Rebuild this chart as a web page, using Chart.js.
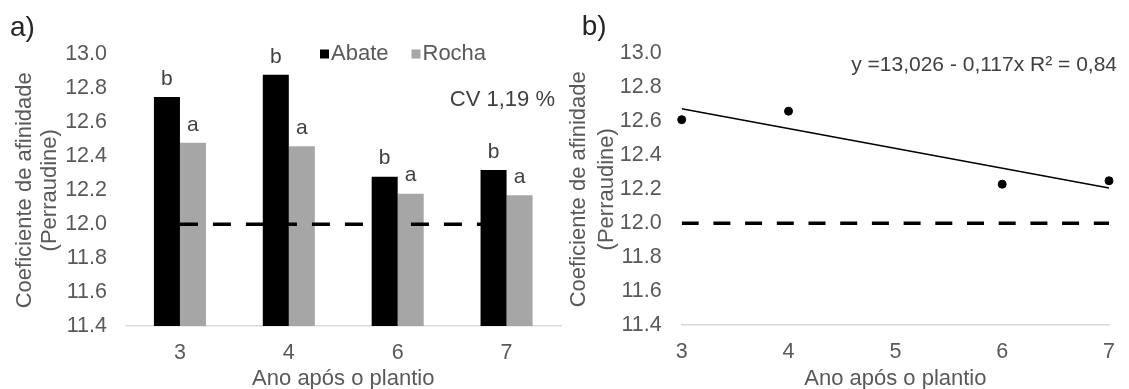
<!DOCTYPE html>
<html>
<head>
<meta charset="utf-8">
<script src="https://cdn.jsdelivr.net/npm/chart.js@4.4.1/dist/chart.umd.min.js"></script>
<style>
  html, body { margin: 0; padding: 0; background: #fff; }
  #wrap { position: relative; width: 1129px; height: 389px; }
  canvas { position: absolute; top: 0; }
  #chartA { left: 0; }
  #chartB { left: 565px; }
</style>
</head>
<body>
<div id="wrap">
  <canvas id="chartA" width="565" height="389"></canvas>
  <canvas id="chartB" width="564" height="389"></canvas>
</div>
<script>
// values
var years = ['3', '4', '6', '7'];
var abate = [12.75, 12.88, 12.28, 12.32];
var rocha = [12.48, 12.46, 12.18, 12.17];
var abateLetters = ['b', 'b', 'b', 'b'];
var rochaLetters = ['a', 'a', 'a', 'a'];
var refLevel = [12, 12, 12, 12];

// panel b
var yearsNum = [3, 4, 6, 7];
var meanValues = [12.61, 12.66, 12.23, 12.25];
var trendX = [3, 7];
var trendY = [12.675, 12.207];
var refX = [3, 7];
var refY = [12, 12];

// axis ticks
var yMin = 11.4, yMax = 13.0, yStep = 0.2;
var xMinB = 3, xMaxB = 7, xStepB = 1;

var FONT = "'Liberation Sans', Arial, sans-serif";
var GREY = '#595959';
Chart.defaults.font.family = FONT;
Chart.defaults.color = GREY;

function pairs(xs, ys) {
  return xs.map(function(x, i) { return {x: x, y: ys[i]}; });
}

// letters above each bar
var barLetters = {
  id: 'barLetters',
  afterDatasetsDraw: function(chart) {
    var ctx = chart.ctx;
    ctx.save();
    ctx.font = '21px ' + FONT;
    ctx.fillStyle = '#404040';
    ctx.textAlign = 'center';
    ctx.textBaseline = 'middle';
    chart.data.datasets.forEach(function(ds, i) {
      if (!ds.letters) return;
      chart.getDatasetMeta(i).data.forEach(function(bar, j) {
        ctx.fillText(ds.letters[j], bar.x, bar.y - 18);
      });
    });
    ctx.restore();
  }
};

// free text + small inline legend
var notes = {
  id: 'notes',
  afterDraw: function(chart, args, opts) {
    var ctx = chart.ctx;
    ctx.save();
    ctx.textBaseline = 'middle';
    (opts.texts || []).forEach(function(t) {
      ctx.font = t.size + 'px ' + FONT;
      ctx.fillStyle = t.color || '#404040';
      ctx.textAlign = t.align || 'left';
      ctx.fillText(t.text, t.x, t.y);
    });
    if (opts.legend) {
      var lg = opts.legend, x = lg.x;
      ctx.font = lg.size + 'px ' + FONT;
      ctx.textAlign = 'left';
      chart.data.datasets.forEach(function(ds) {
        if (ds.type === 'line') return;
        ctx.fillStyle = ds.backgroundColor;
        ctx.fillRect(x, lg.y - 4.5, 9, 9);
        ctx.fillStyle = GREY;
        ctx.fillText(ds.label, x + 11, lg.y);
        x += 11 + ctx.measureText(ds.label).width + lg.gap;
      });
    }
    ctx.restore();
  }
};

var yTitle = ['Coeficiente de afinidade', '(Perraudine)'];
var xTitle = 'Ano após o plantio';

new Chart(document.getElementById('chartA'), {
  type: 'bar',
  data: {
    labels: years,
    datasets: [
      { label: 'Abate', data: abate, backgroundColor: '#000000', letters: abateLetters, order: 1 },
      { label: 'Rocha', data: rocha, backgroundColor: '#a6a6a6', letters: rochaLetters, order: 1 },
      { type: 'line', label: 'ref', data: refLevel, borderColor: '#000', borderWidth: 3.5,
        borderDash: [18, 15], pointRadius: 0, fill: false, order: 0 }
    ]
  },
  options: {
    responsive: false,
    animation: false,
    datasets: { bar: { categoryPercentage: 0.478, barPercentage: 1 } },
    layout: { padding: { left: 10, right: 4, top: 0, bottom: 0 } },
    plugins: {
      legend: { display: false },
      tooltip: { enabled: false },
      title: { display: true, text: 'a)', align: 'start', color: '#262626',
        font: { size: 28, weight: 'normal' }, padding: { top: 11.2, bottom: 9.7 } },
      notes: {
        texts: [ { text: 'CV 1,19 %', x: 555, y: 100, align: 'right', size: 22 } ],
        legend: { x: 320, y: 54, size: 22, gap: 23 }
      }
    },
    scales: {
      x: {
        grid: { display: false, drawTicks: false },
        border: { display: true, color: '#d9d9d9', width: 1.5 },
        ticks: { padding: 14.4, font: { size: 21.5 }, color: GREY },
        title: { display: true, text: xTitle, color: GREY, font: { size: 22, lineHeight: 0.9 }, padding: 0 },
        afterFit: function(s) { s.height = 63; }
      },
      y: {
        min: yMin, max: yMax,
        grid: { display: false, drawTicks: false },
        border: { display: false },
        ticks: { stepSize: yStep, padding: 18.5, font: { size: 21.5 }, color: GREY,
          callback: function(v) { return v.toFixed(1); } },
        title: { display: true, text: yTitle, color: GREY, font: { size: 22, lineHeight: 1.13 },
          padding: { top: 2.6, bottom: 0 } },
        afterFit: function(s) { s.width = 115.5; }
      }
    }
  },
  plugins: [barLetters, notes]
});

new Chart(document.getElementById('chartB'), {
  type: 'scatter',
  data: {
    datasets: [
      { label: 'Média', data: pairs(yearsNum, meanValues), backgroundColor: '#000', borderColor: '#000',
        pointRadius: 4, showLine: false, clip: false, order: 0 },
      { type: 'line', label: 'Ajuste', data: pairs(trendX, trendY), borderColor: '#000', borderWidth: 1.5,
        pointRadius: 0, fill: false, order: 1 },
      { type: 'line', label: 'ref', data: pairs(refX, refY), borderColor: '#000', borderWidth: 3.5,
        borderDash: [17, 14.7], pointRadius: 0, fill: false, order: 1 }
    ]
  },
  options: {
    responsive: false,
    animation: false,
    layout: { padding: { left: 16.7, right: 11.7, top: 0, bottom: 0 } },
    plugins: {
      legend: { display: false },
      tooltip: { enabled: false },
      title: { display: true, text: 'b)', align: 'start', color: '#262626',
        font: { size: 28, weight: 'normal' }, padding: { top: 10.2, bottom: 9.7 } },
      notes: {
        texts: [ { text: 'y =13,026 - 0,117x R² = 0,84', x: 552, y: 65, align: 'right', size: 21 } ]
      }
    },
    scales: {
      x: {
        type: 'linear', min: xMinB, max: xMaxB,
        grid: { display: false, drawTicks: false },
        border: { display: true, color: '#d9d9d9', width: 1.5 },
        ticks: { stepSize: xStepB, padding: 14, font: { size: 21.5 }, color: GREY },
        title: { display: true, text: xTitle, color: GREY, font: { size: 22, lineHeight: 0.9 }, padding: 0 },
        afterFit: function(s) { s.height = 64; }
      },
      y: {
        min: yMin, max: yMax,
        grid: { display: false, drawTicks: false },
        border: { display: false },
        ticks: { stepSize: yStep, padding: 20, font: { size: 21.5 }, color: GREY,
          callback: function(v) { return v.toFixed(1); } },
        title: { display: true, text: yTitle, color: GREY, font: { size: 22, lineHeight: 1.3 },
          padding: { top: -17.3, bottom: 0 } },
        afterFit: function(s) { s.width = 100; }
      }
    }
  },
  plugins: [notes]
});
</script>
</body>
</html>
